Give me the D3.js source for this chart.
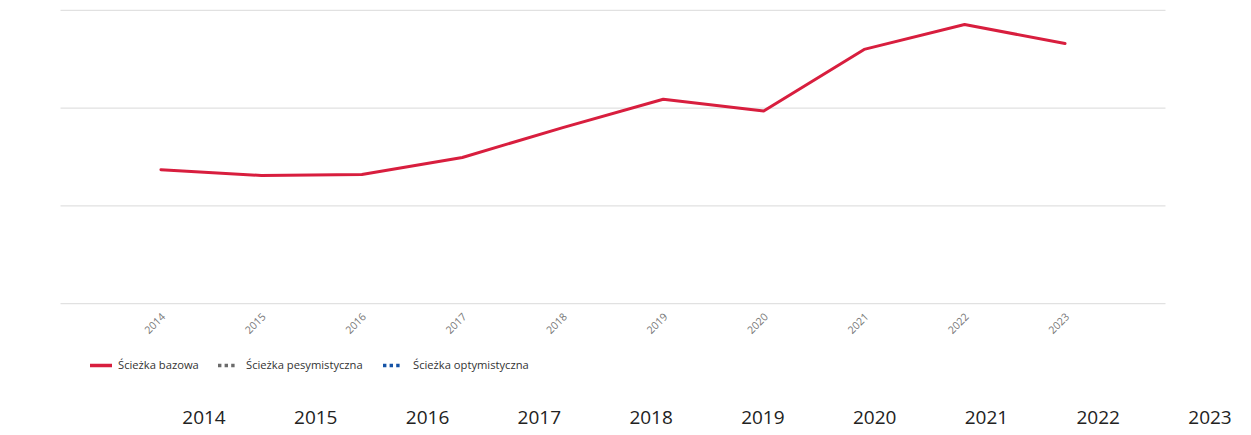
<!DOCTYPE html>
<html>
<head>
<meta charset="utf-8">
<script src="https://cdn.jsdelivr.net/npm/d3@7"></script>
<style>
  html, body { margin: 0; padding: 0; background: #fff; }
  svg { display: block; font-family: "Segoe UI", "Open Sans", sans-serif; }
</style>
</head>
<body>
<svg id="chart" width="1251" height="435"></svg>
<script>
// ====================== DATA ======================
const years = [2014, 2015, 2016, 2017, 2018, 2019, 2020, 2021, 2022, 2023];
const baseValues = [13.7, 13.1, 13.2, 14.95, 18.0, 20.9, 19.7, 26.0, 28.55, 26.6];
const gridTicks = [0, 10, 20, 30];
const legendLabels = ["Ścieżka bazowa", "Ścieżka pesymistyczna", "Ścieżka optymistyczna"];
const legendColors = ["#d81e3e", "#6b6b6b", "#1553a6"];

// ====================== LAYOUT ======================
const width = 1251;
const plotLeft = 60.5, plotRight = 1165.5;
const plotTop = 10.3, plotBottom = 303.6;

const svg = d3.select("#chart");

let xScale = d3.scaleLinear()
  .domain([2013, 2024])
  .range([plotLeft, plotRight]);

let yScale = d3.scaleLinear()
  .domain([0, 30])
  .range([plotBottom, plotTop]);

// gridlines
svg.append("g")
  .selectAll("line")
  .data(gridTicks)
  .enter()
  .append("line")
  .attr("x1", plotLeft)
  .attr("x2", plotRight)
  .attr("y1", d => yScale(d))
  .attr("y2", d => yScale(d))
  .attr("stroke", "#e1e1e1")
  .attr("stroke-width", 1.2);

// rotated x tick labels
svg.append("g")
  .selectAll("text")
  .data(years)
  .enter()
  .append("text")
  .attr("transform", d => `translate(${xScale(d) + 5},${plotBottom + 14}) rotate(-45)`)
  .attr("text-anchor", "end")
  .style("font-size", "10.5px")
  .attr("fill", "#777")
  .text(d => d);

// base path line
const line = d3.line()
  .x((d, i) => xScale(years[i]))
  .y(d => yScale(d));

svg.append("path")
  .datum(baseValues)
  .attr("d", line)
  .attr("fill", "none")
  .attr("stroke", legendColors[0])
  .attr("stroke-width", 3)
  .attr("stroke-linejoin", "round")
  .attr("stroke-linecap", "round");

// ====================== LEGEND ======================
const legendY = 365.5;
const legendItems = [
  { x1: 90, x2: 112, textX: 118, dash: null },
  { x1: 218, x2: 235.5, textX: 246, dash: "3.4,3.2" },
  { x1: 383, x2: 400.5, textX: 413, dash: "3.4,3.2" }
];

const legend = svg.append("g");
legendItems.forEach((item, i) => {
  legend.append("line")
    .attr("x1", item.x1)
    .attr("x2", item.x2)
    .attr("y1", legendY)
    .attr("y2", legendY)
    .attr("stroke", legendColors[i])
    .attr("stroke-width", 3.5)
    .attr("stroke-dasharray", item.dash);
  legend.append("text")
    .attr("x", item.textX)
    .attr("y", legendY)
    .attr("dy", "0.35em")
    .style("font-size", "11.2px")
    .attr("fill", "#333")
    .text(legendLabels[i]);
});

// ====================== BOTTOM YEAR ROW ======================
let xRow = d3.scalePoint()
  .domain(years)
  .range([204, 1210]);

svg.append("g")
  .selectAll("text")
  .data(years)
  .enter()
  .append("text")
  .attr("x", d => xRow(d))
  .attr("y", 424)
  .attr("text-anchor", "middle")
  .style("font-size", "19px")
  .attr("fill", "#222")
  .text(d => d);
</script>
</body>
</html>
